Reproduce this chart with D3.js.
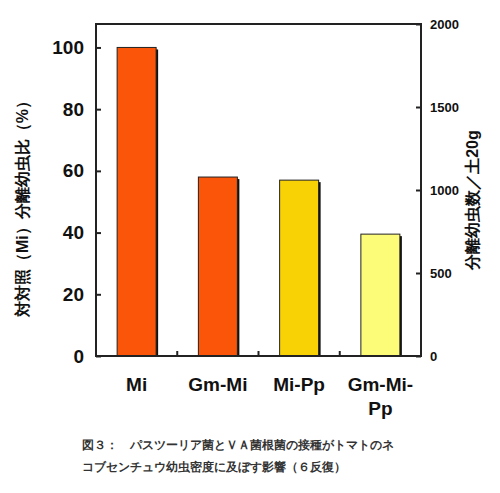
<!DOCTYPE html>
<html><head><meta charset="utf-8">
<script src="https://cdn.jsdelivr.net/npm/d3@7"></script>
<style>body{margin:0;background:#fff}text{font-family:"Liberation Sans",Arial,sans-serif;font-weight:bold}</style>
</head><body><div id="chart"></div>
<script>
// data
var categories = ["Mi", "Gm-Mi", "Mi-Pp", "Gm-Mi-Pp"];
var ratioValues = [100, 58, 57, 39.5];
var barColors = ["#fa5508", "#fa5508", "#f9d205", "#fcfc78"];
var leftTicks = [0, 20, 40, 60, 80, 100];
var rightTicks = [0, 500, 1000, 1500, 2000];

var svg = d3.select("#chart").append("svg").attr("width", 500).attr("height", 493);

var plotLeft = 96, plotRight = 421, plotTop = 24, plotBottom = 356;

var x = d3.scaleBand().domain(categories).range([plotLeft, plotRight])
  .paddingInner(0.52).paddingOuter(0.26);
var y = d3.scaleLinear().domain([0, 107.6]).range([plotBottom, plotTop]);
var y2 = d3.scaleLinear().domain([0, 2000]).range([plotBottom, plotTop]);

// bars with small shadow
svg.selectAll("rect.shadow").data(ratioValues).enter().append("rect")
  .attr("class", "shadow")
  .attr("x", (d, i) => x(categories[i]) + 2)
  .attr("y", d => y(d) + 2)
  .attr("width", x.bandwidth())
  .attr("height", d => plotBottom - y(d) - 2)
  .attr("fill", "#111");
svg.selectAll("rect.bar").data(ratioValues).enter().append("rect")
  .attr("class", "bar")
  .attr("x", (d, i) => x(categories[i]))
  .attr("y", d => y(d))
  .attr("width", x.bandwidth())
  .attr("height", d => plotBottom - y(d))
  .attr("fill", (d, i) => barColors[i])
  .attr("stroke", "#222").attr("stroke-width", 1);

// frame
svg.append("rect").attr("x", plotLeft).attr("y", plotTop)
  .attr("width", plotRight - plotLeft).attr("height", plotBottom - plotTop)
  .attr("fill", "none").attr("stroke", "#222").attr("stroke-width", 2);

// left axis
var leftAxis = svg.append("g").attr("transform", `translate(${plotLeft},0)`)
  .call(d3.axisRight(y).tickValues(leftTicks).tickSize(5).tickFormat(d3.format("d")));
leftAxis.select(".domain").remove();
leftAxis.selectAll("line").attr("stroke", "#222").attr("stroke-width", 2);
leftAxis.selectAll("text").attr("x", -12).attr("text-anchor", "end")
  .attr("font-size", 19).attr("fill", "#111");

// right axis
var rightAxis = svg.append("g").attr("transform", `translate(${plotRight},0)`)
  .call(d3.axisLeft(y2).tickValues(rightTicks).tickSize(5).tickFormat(d3.format("d")));
rightAxis.select(".domain").remove();
rightAxis.selectAll("line").attr("stroke", "#222").attr("stroke-width", 2);
rightAxis.selectAll("text").attr("x", 9).attr("text-anchor", "start")
  .attr("font-size", 13).attr("fill", "#111");

// separators on x axis
var seps = categories.slice(1).map(c => x(c) - x.step() * x.paddingInner() / 2);
svg.selectAll("line.sep").data(seps).enter().append("line")
  .attr("x1", d => d).attr("x2", d => d)
  .attr("y1", plotBottom).attr("y2", plotBottom - 5)
  .attr("stroke", "#222").attr("stroke-width", 2);

// category labels
categories.forEach(function (c) {
  var cx = x(c) + x.bandwidth() / 2;
  var t = svg.append("text").attr("x", cx).attr("y", 391)
    .attr("text-anchor", "middle").attr("font-size", 19).attr("fill", "#111");
  if (c === "Gm-Mi-Pp") {
    t.text("Gm-Mi-");
    svg.append("text").attr("x", cx).attr("y", 415).attr("text-anchor", "middle")
      .attr("font-size", 19).attr("fill", "#111").text("Pp");
  } else t.text(c);
});

// axis titles
svg.append("text")
  .attr("transform", `translate(28,${(plotTop + plotBottom) / 2 + 15}) rotate(-90)`)
  .attr("text-anchor", "middle").attr("font-size", 16).attr("fill", "#111")
  .attr("font-family", "Noto Sans CJK JP")
  .text("対対照（Mi）分離幼虫比（%）");
svg.append("text")
  .attr("transform", `translate(478,${(plotTop + plotBottom) / 2 + 10}) rotate(-90)`)
  .attr("text-anchor", "middle").attr("font-size", 16).attr("fill", "#111")
  .attr("font-family", "Noto Sans CJK JP")
  .text("分離幼虫数／土20g");

// caption
svg.append("text").attr("x", 82).attr("y", 449).attr("font-size", 11.5)
  .attr("fill", "#333").attr("font-family", "Noto Sans CJK JP")
  .text("図３：　パスツーリア菌とＶＡ菌根菌の接種がトマトのネ");
svg.append("text").attr("x", 82).attr("y", 471).attr("font-size", 11.5)
  .attr("fill", "#333").attr("font-family", "Noto Sans CJK JP")
  .text("コブセンチュウ幼虫密度に及ぼす影響（６反復）");
</script></body></html>
